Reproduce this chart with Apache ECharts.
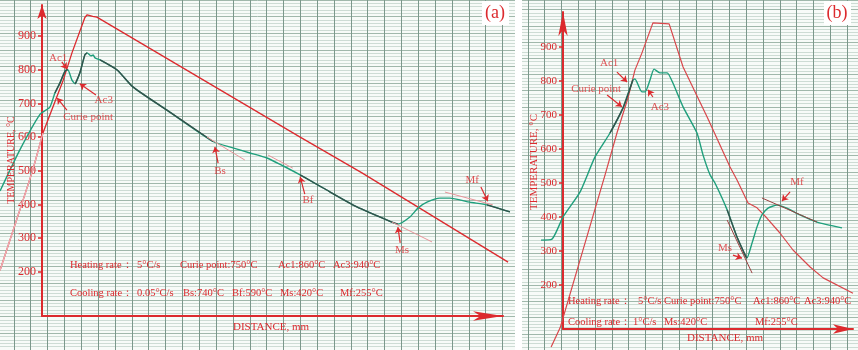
<!DOCTYPE html>
<html lang="en">
<head>
<meta charset="UTF-8">
<title>Heating / cooling dilatometer curves (a) (b)</title>
<script src="https://cdn.jsdelivr.net/npm/echarts@6/dist/echarts.min.js"></script>
<style>html,body{margin:0;padding:0;background:#fff}</style>
</head>
<body>
<div id="chart1" style="width:858px;height:350px;"></div>
<script>
var myCharts = echarts.init(document.getElementById("chart1"));

// temperature tick labels, °C
var tempTicks = [200, 300, 400, 500, 600, 700, 800, 900];

// panel (a): [distance 0..100 along the axis, temperature °C]
var redA = [[-9.1,205],[-4.8,384],[-2.0,502],[0.2,612],[4.6,769],[6.5,850],[9.3,955],[9.8,963],
            [11.0,958],[11.9,956],[56.0,600],[69.4,494],[101.1,229]];
var greenA = [[-9.1,440],[-4.8,562],[-0.4,668],[1.7,689],[2.8,731],[3.9,761],[5.0,796],[5.6,800],
              [6.5,769],[7.2,758],[8.2,790],[9.3,844],[9.8,850],[10.6,841],[11.1,844],[11.5,835],
              [12.6,829],[16.3,799],[19.7,749],[27.1,680],[37.1,587],[41.4,568],[45.1,553],
              [48.8,538],[56.0,488],[61.0,449],[68.3,393],[75.9,348],[77.2,342],[79.8,363],
              [81.6,390],[83.5,407],[86.3,419],[88.5,419],[92.8,407],[96.5,399],[101.5,378]];
var paleA = [[-9.1,0.2]];                                              // faint part of the red trace
var darkA = [[2.5,5.6],[7.2,9.8],[12.6,37.1],[56,77.2],[96.5,101.5]];   // inked-over parts of green
var tangentA = [[[35.8,600],[44.0,532]], [[49.0,547],[54.4,508]],
                [[75.9,348],[84.6,289]], [[87.4,437],[97.8,399]]];
var noteA = [
    {name:"Ac1", at:[3.5,835], from:[4.3,823], to:[5.4,802]},
    {name:"Ac3", at:[13.4,710], from:[11.7,725], to:[8.2,758]},
    {name:"Curie point", at:[10.0,660], from:[5.4,680], to:[3.3,716]},
    {name:"Bs", at:[38.6,499], from:[38.2,523], to:[37.5,571]},
    {name:"Bf", at:[57.7,413], from:[57.0,431], to:[56.0,482]},
    {name:"Ms", at:[78.1,265], from:[77.7,286], to:[77.2,333]},
    {name:"Mf", at:[93.3,473], from:[95.2,452], to:[96.7,410]}
];

// panel (b)
var redB = [[-4.1,18],[-1.0,74],[14.5,524],[18.6,647],[22.4,750],[24.8,832],[27.2,882],[31.0,971],
            [36.6,968],[41.4,841],[49.7,694],[57.6,547],[60.0,509],[63.8,441],[66.9,427],
            [70.3,397],[74.8,353],[79.3,303],[85.2,253],[89.7,221],[100,176]];
var greenB = [[-7.6,332],[-3.8,335],[0,400],[5.9,474],[11.0,576],[16.2,647],[20.7,721],[24.1,803],
              [24.8,806],[27.2,768],[28.3,768],[30.0,803],[31.4,835],[33.4,824],[35.9,824],
              [37.9,794],[41.4,724],[46.2,647],[48.3,582],[50.7,524],[52.4,500],[56.6,421],
              [60.0,341],[62.8,288],[63.4,279],[65.2,324],[66.9,371],[68.6,406],[70.7,426],
              [73.8,435],[77.2,426],[81.7,406],[87.6,385],[96.2,368]];
var darkB = [[16.2,24.1],[56.6,63.4]];
var tangentB = [[[56.6,391],[65.2,235]], [[68.6,456],[87.6,385]]];
var noteB = [
    {name:"Ac1", at:[15.9,853], from:[18.6,826], to:[22.1,797]},
    {name:"Curie point", at:[11.4,776], from:[15.2,759], to:[20.3,724]},
    {name:"Ac3", at:[33.4,724], from:[31.0,753], to:[29.3,774]},
    {name:"Ms", at:[55.9,309], from:[58.6,288], to:[61.7,279]},
    {name:"Mf", at:[80.7,503], from:[78.3,474], to:[75.5,447]}
];

var RED = "#dc2a2e", GREEN = "#1f9f7c", DARK = "#34504a", PINK = "#e8959a";
var SERIF = '"Liberation Serif","DejaVu Serif",serif';

function curve(data, gi, color, width, smooth) {
    return {type:"line", xAxisIndex:gi, yAxisIndex:gi, data:data, symbol:"none",
            silent:true, smooth:smooth || false, lineStyle:{color:color, width:width}, z:3};
}
function pieces(data, ranges) {
    return ranges.map(function (r) {
        return data.filter(function (p) { return p[0] >= r[0] && p[0] <= r[1]; });
    });
}
function notes(list, gi) {
    return {
        type:"scatter", xAxisIndex:gi, yAxisIndex:gi, silent:true, symbolSize:1,
        itemStyle:{color:"rgba(0,0,0,0)"}, z:5,
        data:list.map(function (n) { return {name:n.name, value:n.at}; }),
        label:{show:true, position:"inside", formatter:"{b}", color:RED, fontFamily:SERIF, fontSize:11},
        markLine:{
            silent:true, symbol:["none","arrow"], symbolSize:6,
            lineStyle:{color:RED, width:1.2, type:"solid"}, label:{show:false},
            data:list.map(function (n) { return [{coord:n.from}, {coord:n.to}]; })
        }
    };
}
// graph paper axes
function paperV(gi, max) {
    return {gridIndex:gi, type:"value", min:0, max:max, interval:1,
            axisLine:{show:false}, axisTick:{show:false}, axisLabel:{show:false},
            splitLine:{show:true, lineStyle:{color:"#7b988b", width:1}}};
}
function paperH(gi, max) {
    return {gridIndex:gi, type:"value", min:-40, max:max, interval:50,
            axisLine:{show:false}, axisTick:{show:false}, axisLabel:{show:false},
            splitLine:{show:true, lineStyle:{color:"#a0b8ab", width:1}},
            minorTick:{show:false, splitNumber:5},
            minorSplitLine:{show:true, lineStyle:{color:"#cddcd4", width:1}}};
}
function hidden(gi, min, max) { return {gridIndex:gi, type:"value", show:false, min:min || 0, max:max || 1}; }
function axisX(gi, arrowLen) {
    return {gridIndex:gi, type:"value", min:0, max:100,
            axisLine:{show:true, onZero:false, symbol:["none","arrow"], symbolSize:[7,arrowLen],
                      lineStyle:{color:RED, width:2}},
            axisTick:{show:false}, axisLabel:{show:false}, splitLine:{show:false}};
}
function axisY(gi, min, max, fs, arrowLen) {
    return {gridIndex:gi, type:"value", min:min, max:max,
            axisLine:{show:true, onZero:false, symbol:["none","arrow"], symbolSize:[7,arrowLen],
                      lineStyle:{color:RED, width:2}},
            axisTick:{show:true, customValues:tempTicks, length:4, lineStyle:{color:RED, width:1.5}},
            axisLabel:{show:true, customValues:tempTicks, color:RED, fontFamily:SERIF, fontSize:fs, margin:6},
            splitLine:{show:false}};
}
function txt(s, x, y, size, align) {
    return {type:"text", x:x, y:y, z:10, silent:true,
            style:{text:s, fill:RED, fontFamily:SERIF, fontSize:size || 10.5,
                   align:align || "left", textAlign:align || "left",
                   verticalAlign:"middle", textVerticalAlign:"middle"}};
}
function vtxt(s, x, y, size) {
    var t = txt(s, x, y, size, "center");
    t.rotation = Math.PI / 2;
    return t;
}

// curves live in full-panel grids 6 / 7 that share the scale of the visible axes (grids 4 / 5)
var series = [
    curve(redA, 6, RED, 1.3)
];
pieces(redA, paleA).forEach(function (p) { series.push(curve(p, 6, "#eeb0b6", 1.3)); });
series.push(curve(greenA, 6, GREEN, 1.4, 0.2));
pieces(greenA, darkA).forEach(function (p) { series.push(curve(p, 6, DARK, 1.4, 0.2)); });
tangentA.forEach(function (t) { series.push(curve(t, 6, PINK, 1)); });
series.push(notes(noteA, 6));
series.push(curve(redB, 7, "#d9474b", 1.2));
series.push(curve(greenB, 7, GREEN, 1.4, 0.2));
pieces(greenB, darkB).forEach(function (p) { series.push(curve(p, 7, DARK, 1.4, 0.2)); });
tangentB.forEach(function (t) { series.push(curve(t, 7, "#9a4040", 1)); });
series.push(notes(noteB, 7));

var option = {
    animation:false,
    backgroundColor:"#f7fbf8",
    grid:[
        {left:13.9, top:0, width:501.1, height:350},          // paper (a) vertical lines
        {left:0, top:-1.07, width:515, height:353.85},         // paper (a) horizontal lines
        {left:527.8, top:0, width:330.2, height:350},          // paper (b) vertical lines
        {left:522, top:-0.6, width:336, height:367.2},         // paper (b) horizontal lines
        {left:42, top:5, width:461, height:311},               // axes (a)
        {left:563, top:12, width:290, height:317},             // axes (b)
        {left:0, top:0, width:515, height:350},                // curves (a)
        {left:522, top:0, width:336, height:350}               // curves (b)
    ],
    xAxis:[paperV(0, 29.74), hidden(1), paperV(2, 19.65), hidden(3), axisX(4, 30), axisX(5, 20),
           hidden(6, -9.11, 102.6), hidden(7, -14.14, 101.72)],
    yAxis:[hidden(0), paperH(1, 1010), hidden(2), paperH(3, 1040),
           axisY(4, 69.3, 992, 12, 14), axisY(5, 70.6, 1003, 11, 24),
           hidden(6, -31.6, 1006.8), hidden(7, 8.9, 1038.2)],
    graphic:[
        {type:"rect", z:1, silent:true, shape:{x:515, y:0, width:7, height:350}, style:{fill:"#ffffff"}},
        {type:"rect", z:1, silent:true, shape:{x:482, y:1, width:27, height:24}, style:{fill:"#ffffff"}},
        {type:"rect", z:1, silent:true, shape:{x:824, y:1, width:27, height:24}, style:{fill:"#ffffff"}},
        txt("(a)", 495, 13, 18, "center"),
        txt("(b)", 837, 13, 18, "center"),
        vtxt("TEMPERATURE, °C", 11, 160, 10),
        vtxt("TEMPERATURE, °C", 534, 162, 11),
        txt("Heating rate：", 70, 265), txt("5°C/s", 137, 265),
        txt("Curie point:750°C", 180, 265), txt("Ac1:860°C", 278, 265), txt("Ac3:940°C", 333, 265),
        txt("Cooling rate：", 70, 293), txt("0.05°C/s", 137, 293),
        txt("Bs:740°C", 183, 293), txt("Bf:590°C", 232, 293),
        txt("Ms:420°C", 280, 293), txt("Mf:255°C", 340, 293),
        txt("DISTANCE, mm", 233, 327, 11),
        txt("Heating rate：", 568, 301), txt("5°C/s", 638, 301),
        txt("Curie point:750°C", 664, 301), txt("Ac1:860°C", 753, 301), txt("Ac3:940°C", 804, 301),
        txt("Cooling rate：", 568, 322), txt("1°C/s", 633, 322),
        txt("Ms:420°C", 664, 322), txt("Mf:255°C", 755, 322),
        txt("DISTANCE, mm", 687, 338, 11)
    ],
    series:series
};
myCharts.setOption(option);
</script>
</body>
</html>
